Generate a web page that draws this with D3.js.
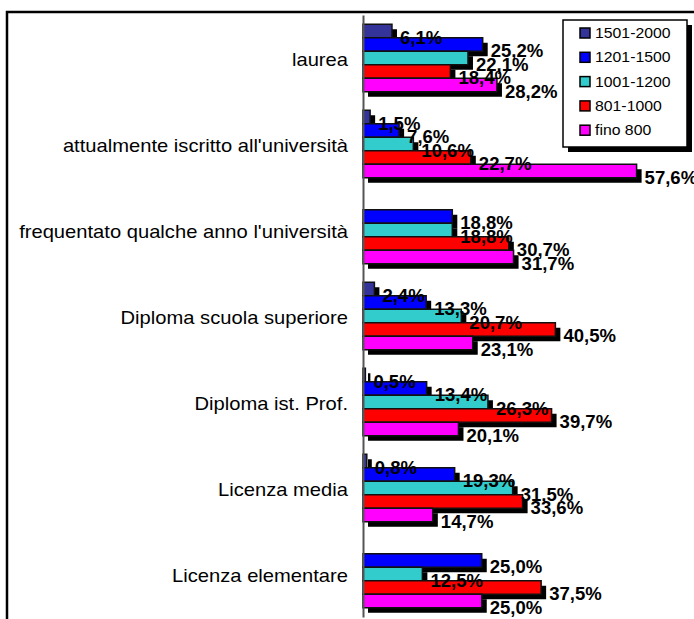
<!DOCTYPE html>
<html lang="it">
<head>
<meta charset="utf-8">
<title>Titolo di studio per fascia di reddito</title>
<script src="https://d3js.org/d3.v7.min.js"></script>
<style>
  body { margin: 0; background: #fff; }
  svg { display: block; font-family: Arial, "Liberation Sans", sans-serif; }
</style>
</head>
<body>
<div id="chart"></div>
<script>
// categories, top to bottom
var categories = [
  "laurea",
  "attualmente iscritto all'università",
  "frequentato qualche anno l'università",
  "Diploma scuola superiore",
  "Diploma ist. Prof.",
  "Licenza media ",
  "Licenza elementare"
];
var seriesNames = ["1501-2000", "1201-1500", "1001-1200", "801-1000", "fino 800"];
var seriesColors = ["#333399", "#0000ff", "#33cccc", "#ff0000", "#ff00ff"];

// one array per series, same order as categories (null = no bar)
var s1501_2000 = [6.1, 1.5, null, 2.4, 0.5, 0.8, null];
var s1201_1500 = [25.2, 7.6, 18.8, 13.3, 13.4, 19.3, 25.0];
var s1001_1200 = [22.1, 10.6, 18.8, 20.7, 26.3, 31.5, 12.5];
var s801_1000  = [18.4, 22.7, 30.7, 40.5, 39.7, 33.6, 37.5];
var sFino800   = [28.2, 57.6, 31.7, 23.1, 20.1, 14.7, 25.0];
var seriesValues = [s1501_2000, s1201_1500, s1001_1200, s801_1000, sFino800];

var width = 694, height = 619;
var sx = 1.13; // fonts in the picture are a bit wide

var svg = d3.select("#chart").append("svg")
    .attr("width", width)
    .attr("height", height);

// outer frame (runs off the right and bottom edge)
svg.append("rect")
    .attr("x", 7).attr("y", 12)
    .attr("width", 720).attr("height", 700)
    .attr("fill", "none")
    .attr("stroke", "#000")
    .attr("stroke-width", 2.5);

var x = d3.scaleLinear().domain([0, 60]).range([363, 648]);
var y = d3.scaleBand().domain(categories).range([15, 617]);
var ySeries = d3.scaleBand().domain(seriesNames)
    .range([9.25, y.bandwidth() - 9.25]);

var rows = categories.map(function(c, i) {
  return { cat: c, i: i };
});

var shadow = 5;
var fmt = function(v) { return d3.format(".1f")(v).replace(".", ",") + "%"; };
var labelLayer = []; // texts go on top of everything at the end

seriesNames.forEach(function(name, si) {
  var data = rows.filter(function(r) { return seriesValues[si][r.i] != null; })
    .map(function(r) {
      return { cat: r.cat, v: seriesValues[si][r.i], s: name };
    });
  var g = svg.append("g").attr("class", "series");

  g.selectAll(".shadow")
      .data(data)
      .enter().append("rect")
      .attr("x", x(0) + shadow)
      .attr("y", function(d) { return y(d.cat) + ySeries(name) + shadow; })
      .attr("width", function(d) { return x(d.v) - x(0); })
      .attr("height", ySeries.bandwidth())
      .attr("fill", "#000");

  g.selectAll(".bar")
      .data(data)
      .enter().append("rect")
      .attr("x", x(0))
      .attr("y", function(d) { return y(d.cat) + ySeries(name); })
      .attr("width", function(d) { return x(d.v) - x(0); })
      .attr("height", ySeries.bandwidth())
      .attr("fill", seriesColors[si])
      .attr("stroke", "#111")
      .attr("stroke-width", 1.5);

  // white label boxes sit under the next series
  g.selectAll(".labbg")
      .data(data)
      .enter().append("rect")
      .attr("class", "labbg")
      .attr("fill", "#fff")
      .each(function(d) { labelLayer.push({ d: d, bg: this }); });
});

var labels = svg.append("g").attr("class", "labels");
labelLayer.forEach(function(o) {
  var d = o.d;
  var bx = x(d.v) + 8;
  var by = y(d.cat) + ySeries(d.s) + ySeries.bandwidth() + 6;
  var t = labels.append("text")
      .attr("transform", "translate(" + bx + "," + by + ") scale(1.03,1)")
      .attr("font-size", 18)
      .attr("font-weight", "bold")
      .attr("fill", "#000")
      .text(fmt(d.v));
  var b = t.node().getBBox();
  d3.select(o.bg)
      .attr("x", bx + b.x - 1)
      .attr("y", by + b.y + 3)
      .attr("width", b.width * 1.03 + 2)
      .attr("height", b.height - 6);
});

// category axis
var axis = svg.append("g")
    .attr("transform", "translate(" + x(0) + ",0)")
    .call(d3.axisLeft(y).tickSize(0).tickSizeOuter(0).tickPadding(0));
axis.select(".domain").attr("stroke", "#555").attr("stroke-width", 2);
axis.selectAll(".tick text")
    .attr("x", 0)
    .attr("dy", "0.45em")
    .attr("font-size", 18)
    .attr("font-family", "Arial, 'Liberation Sans', sans-serif")
    .attr("fill", "#000")
    .attr("transform", "translate(-15,0) scale(1.12,1)");

// legend
var lg = svg.append("g").attr("transform", "translate(563,20)");
lg.append("rect")
    .attr("x", 5).attr("y", 5)
    .attr("width", 124).attr("height", 127)
    .attr("fill", "#000");
lg.append("rect")
    .attr("width", 124).attr("height", 127)
    .attr("fill", "#fff")
    .attr("stroke", "#000")
    .attr("stroke-width", 1.5);
var item = lg.selectAll(".item")
    .data(seriesNames)
    .enter().append("g")
    .attr("transform", function(d, i) { return "translate(17," + (13 + i * 24.3) + ")"; });
item.append("rect")
    .attr("x", 0).attr("y", -5)
    .attr("width", 10).attr("height", 10)
    .attr("fill", function(d, i) { return seriesColors[i]; })
    .attr("stroke", "#000")
    .attr("stroke-width", 1.5);
item.append("text")
    .attr("transform", "translate(15,5) scale(" + sx + ",1)")
    .attr("font-size", 14)
    .text(function(d) { return d; });
</script>
</body>
</html>
